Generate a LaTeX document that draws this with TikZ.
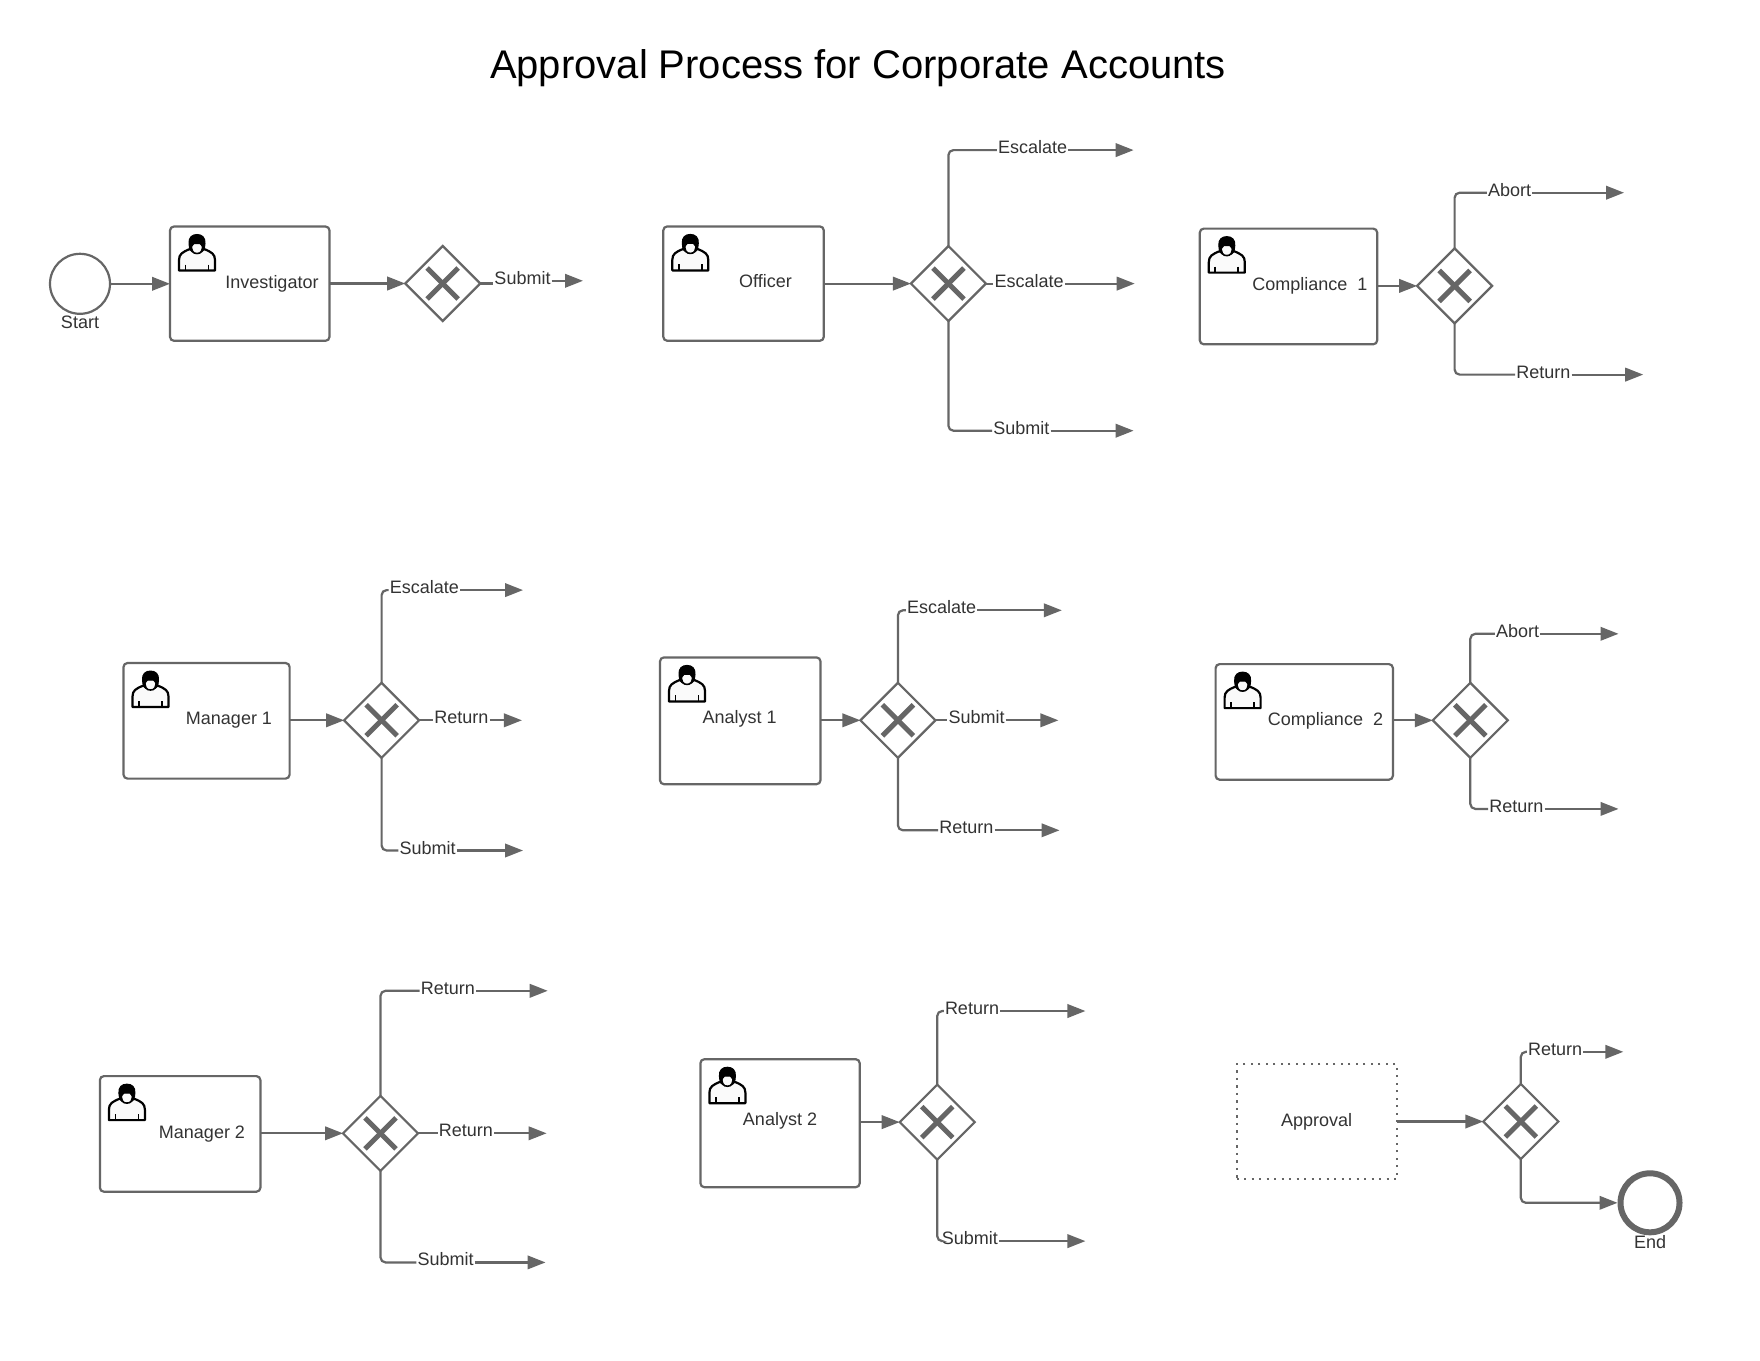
\documentclass[tikz,border=0pt]{standalone}
\usepackage{fontspec}
\setmainfont{Liberation Sans}
\usetikzlibrary{arrows.meta,shapes.geometric}
\definecolor{ln}{HTML}{666666}
\definecolor{tx}{HTML}{333333}
\tikzset{
  x=1pt,y=-1pt,
  conn/.style={draw=ln,line width=2.2pt,rounded corners=5pt},
  arr/.style={conn,-{Triangle[length=18pt,width=13.5pt]}},
  taskbox/.style={draw=ln,line width=2.2pt,rounded corners=4pt,inner sep=0pt,outer sep=0pt},
  apprbox/.style={draw=ln,line width=2.2pt,dash pattern=on 2.2pt off 5.3pt,inner sep=0pt,outer sep=0pt},
  gate/.style={draw=ln,line width=2.2pt,diamond,aspect=1,minimum width=75pt,minimum height=75pt,inner sep=0pt,outer sep=0pt,fill=white},
  xmark/.style={draw=ln,line width=5pt},
  lab/.style={text=tx,font=\fontsize{18}{20}\selectfont,inner ysep=0pt,inner xsep=1pt,text height=11pt,text depth=4pt},
  txt/.style={text=tx,font=\fontsize{18}{20}\selectfont,inner sep=0pt,text height=13pt,text depth=0pt},
  ttl/.style={text=black,font=\fontsize{40}{46}\selectfont,inner sep=0pt},
  usrbody/.style={draw=black,line width=2.2pt,fill=white!96!gray,line join=round},
  usrface/.style={draw=black,line width=1.6pt,fill=white!96!gray},
  usrhair/.style={fill=black,draw=black,line width=1pt},
  usrline/.style={draw=black,line width=1.8pt},
}
% name, x1, y1, x2, y2
\newcommand{\mytask}[6][taskbox]{%
  \pgfmathsetmacro{\bw}{#5-#3}\pgfmathsetmacro{\bh}{#6-#4}%
  \pgfmathsetmacro{\bx}{(#3+#5)/2}\pgfmathsetmacro{\by}{(#4+#6)/2}%
  \node[#1,minimum width=\bw pt,minimum height=\bh pt] (#2) at (\bx,\by) {};}
\newcommand{\myicon}[1]{%
  \begin{scope}[shift={(#1.north west)}]
    \draw[usrbody] (9,44) -- (9,33.5) .. controls (9,27.5) and (12.5,25.5) .. (20,22.5) .. controls (22,27) and (32,27) .. (34,22.5) .. controls (41.5,25.5) and (45,27.5) .. (45,33.5) -- (45,44) -- cycle;
    \draw[usrline] (15.5,38) -- (15.5,44) (38.5,38) -- (38.5,44);
    \path[usrface] (21,15) .. controls (21,25) and (23,27) .. (27,27) .. controls (31,27) and (33,25) .. (33,15) -- cycle;
    \path[usrhair] (19,17) .. controls (18.5,11) and (22,8) .. (27,8) .. controls (32,8) and (35.5,11) .. (35,17) .. controls (35,20) and (34.5,22) .. (33,23.5) .. controls (32.5,20) and (32,18.5) .. (30,17) -- (24,17) .. controls (22,18.5) and (21.5,20) .. (21,23.5) .. controls (19.5,22) and (19,20) .. (19,17) -- cycle;
  \end{scope}}
\newcommand{\mygate}[3]{%
  \node[gate] (#1) at (#2,#3) {};
  \draw[xmark] ([shift={(-15.5,-15.5)}]#1.center) -- ([shift={(15.5,15.5)}]#1.center);
  \draw[xmark] ([shift={(-15.5,15.5)}]#1.center) -- ([shift={(15.5,-15.5)}]#1.center);}
\newcommand{\mybranch}[7]{% id, gate, anchor, text, labx, y, endx
  \node[lab] (#1l) at (#5,#6) {#4};
  \coordinate (#1e) at (#7,#6);
  \draw[conn] (#2.#3) |- (#1l.west);
  \draw[arr] (#1l.east) -- (#1e);}
\newcommand{\mymiddle}[6]{% id, gate, text, labx, endx, y
  \node[lab] (#1l) at (#4,#6) {#3};
  \coordinate (#1e) at (#5,#6);
  \draw[conn] (#2.east) -- (#2.east -| #1l.west);
  \draw[arr] (#1l.east) -- (#1e);}
\begin{document}
\begin{tikzpicture}
\useasboundingbox (0,-0.8) rectangle (1760,1359.2);
\fill[white] (0,-0.8) rectangle (1760,1359.2);
\node[ttl] (title) at (858,67.5) {Approval Process for Corporate Accounts};

% Row 1
\node[circle,draw=ln,line width=2.2pt,minimum size=60pt,inner sep=0pt,outer sep=0pt] (start) at (80,283) {};
\node[txt] (startl) at (80,321) {Start};
\mytask{inv}{170}{225.7}{329.5}{340}\myicon{inv}
\node[txt] (invt) at (272,281) {Investigator};
\draw[arr] (start.east) -- (start.east -| inv.west);
\mygate{g1}{442.7}{282.7}
\draw[arr] (inv.east |- g1.west) -- (g1.west);
\node[lab] (g1sl) at (522.5,280) {Submit};
\coordinate (g1se) at (583,280);
\draw[conn] (g1.east) -- (g1.east -| g1sl.west);
\draw[arr] (g1sl.east) -- (g1se);

\mytask{off}{663.3}{225.6}{823.8}{340}\myicon{off}
\node[txt] (offt) at (765.5,280.6) {Officer};
\mygate{g2}{948.4}{282.8}
\draw[arr] (off.east |- g2.west) -- (g2.west);
\mybranch{g2a}{g2}{north}{Escalate}{1032.6}{149.3}{1133.6}
\mymiddle{g2b}{g2}{Escalate}{1029.2}{1134.7}{282.8}
\mybranch{g2c}{g2}{south}{Submit}{1021.4}{429.9}{1133.6}

\mytask{co1}{1199.8}{227.8}{1377.2}{343.5}\myicon{co1}
\node[txt] (co1t) at (1309.8,282.8) {Compliance\ \ 1};
\mygate{g3}{1454.6}{285.1}
\draw[arr] (co1.east |- g3.west) -- (g3.west);
\mybranch{g3a}{g3}{north}{Abort}{1509.6}{191.9}{1624}
\mybranch{g3b}{g3}{south}{Return}{1543.3}{373.8}{1643.2}

% Row 2
\mytask{ma1}{123.5}{662.2}{289.6}{777.8}\myicon{ma1}
\node[txt] (ma1t) at (229,717.2) {Manager 1};
\mygate{g4}{381.6}{719.5}
\draw[arr] (ma1.east |- g4.west) -- (g4.west);
\mybranch{g4a}{g4}{north}{Escalate}{424.3}{589.3}{523}
\mymiddle{g4b}{g4}{Return}{461.3}{521.9}{719.5}
\mybranch{g4c}{g4}{south}{Submit}{427.6}{849.7}{523}

\mytask{an1}{660}{656.6}{820.5}{783.4}\myicon{an1}
\node[txt] (an1t) at (739.7,716) {Analyst 1};
\mygate{g5}{897.9}{719.5}
\draw[arr] (an1.east |- g5.west) -- (g5.west);
\mybranch{g5a}{g5}{north}{Escalate}{941.7}{609.5}{1061.8}
\mymiddle{g5b}{g5}{Submit}{976.5}{1058.4}{719.5}
\mybranch{g5c}{g5}{south}{Return}{966.4}{829.5}{1059.5}

\mytask{co2}{1215.6}{663.3}{1392.9}{778.9}\myicon{co2}
\node[txt] (co2t) at (1325.5,718.3) {Compliance\ \ 2};
\mygate{g6}{1470.3}{719.5}
\draw[arr] (co2.east |- g6.west) -- (g6.west);
\mybranch{g6a}{g6}{north}{Abort}{1517.5}{633}{1618.5}
\mybranch{g6b}{g6}{south}{Return}{1516.4}{808.1}{1618.5}

% Row 3
\mytask{ma2}{99.9}{1075.3}{260.4}{1190.9}\myicon{ma2}
\node[txt] (ma2t) at (202,1131.4) {Manager 2};
\mygate{g7}{380.5}{1132.5}
\draw[arr] (ma2.east |- g7.west) -- (g7.west);
\mybranch{g7a}{g7}{north}{Return}{447.8}{990}{547.7}
\mymiddle{g7b}{g7}{Return}{465.8}{546.6}{1132.5}
\mybranch{g7c}{g7}{south}{Submit}{445.6}{1261.6}{545.5}

\mytask{an2}{700.4}{1058.4}{859.7}{1186.4}\myicon{an2}
\node[txt] (an2t) at (780,1117.9) {Analyst 2};
\mygate{g8}{937.2}{1121.3}
\draw[arr] (an2.east |- g8.west) -- (g8.west);
\mybranch{g8a}{g8}{north}{Return}{972}{1010.2}{1085.4}
\mybranch{g8b}{g8}{south}{Submit}{969.8}{1240.3}{1085.4}

\mytask[apprbox]{app}{1236.7}{1063.3}{1397.3}{1178.3}
\node[txt] (appt) at (1316.7,1119) {Approval};
\mygate{g9}{1520.8}{1120.7}
\draw[arr] (app.east |- g9.west) -- (g9.west);
\mybranch{g9a}{g9}{north}{Return}{1555}{1051}{1623.3}
\node[circle,draw=ln,line width=6pt,minimum size=59pt,inner sep=0pt] (endc) at (1650,1202) {};
\node[txt] (endl) at (1650,1240.7) {End};
\draw[arr] (g9.south) |- (endc.west);
\end{tikzpicture}
\end{document}
